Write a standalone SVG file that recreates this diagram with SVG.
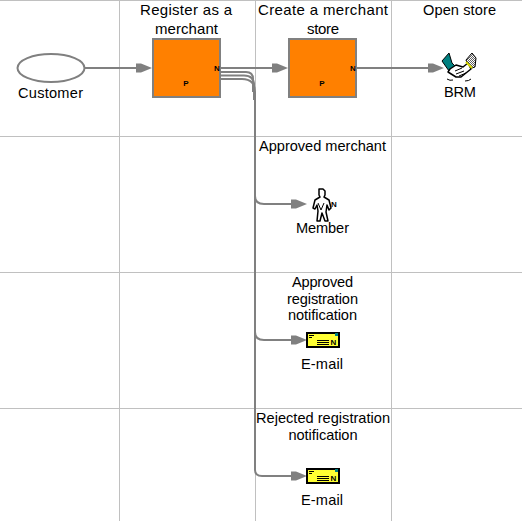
<svg xmlns="http://www.w3.org/2000/svg" width="522" height="521" viewBox="0 0 522 521">
<style>
text{font-family:"Liberation Sans",Arial,sans-serif;font-size:14.6px;fill:#000;text-anchor:middle}
.hd{font-size:15px}
.g{stroke:#c0c0c0;stroke-width:1;fill:none;shape-rendering:crispEdges}
.c{stroke:#808080;stroke-width:2;fill:none}
.h{fill:#808080;stroke:none}
.box{fill:#ff8000;stroke:#808080;stroke-width:2;shape-rendering:crispEdges}
.tiny{font-size:8px;font-weight:bold}
.env{fill:#ffff33;stroke:#000;stroke-width:2;shape-rendering:crispEdges}
.ln{stroke:#000;stroke-width:1;fill:none;shape-rendering:crispEdges}
.ol{fill:#fff;stroke:#000;stroke-width:1.500;stroke-linejoin:round}
</style>
<defs>
<pattern id="grey" width="2" height="2" patternUnits="userSpaceOnUse"><rect width="2" height="2" fill="#fff"/><rect width="1" height="1" fill="#606060"/><rect x="1" y="1" width="1" height="1" fill="#606060"/></pattern>
<path id="ah" class="h" d="M0 -4.500L5 -4.500L16 0L5 4.500L0 4.500Z"/>
</defs>
<rect width="522" height="521" fill="#fff"/>
<g id="grid">
<path class="g" d="M119.500 0V521M255.500 0V521M391.500 0V521M0 0.500H522M0 136.500H522M0 272.500H522M0 408.500H522"/>
</g>
<g id="connectors">
<path class="c" d="M85 68H138"/><use href="#ah" x="136" y="68"/>
<path class="c" d="M221 68H274"/><use href="#ah" x="272" y="68"/>
<path class="c" d="M357 68H430"/><use href="#ah" x="428" y="68"/>
<path class="c" d="M221 72H246Q253 72 253 79V92"/>
<path class="c" d="M221 75.500H244Q254 75.500 254 85V100"/>
<path class="c" d="M221 79H242Q255 79 255 92V470Q255 476 262 476H292"/>
<path class="c" d="M255 196Q255 204 264 204H292"/><use href="#ah" x="291" y="204"/>
<path class="c" d="M255 332Q255 340 264 340H292"/><use href="#ah" x="291" y="340"/>
<use href="#ah" x="291" y="476"/>
</g>
<g id="customer"><ellipse cx="51" cy="68" rx="33.500" ry="14" fill="#fff" stroke="#808080" stroke-width="2"/><text x="50.500" y="98" textLength="65">Customer</text></g>
<g id="register"><rect class="box" x="153" y="39" width="67" height="58"/><text class="tiny" x="186" y="86">P</text><text class="tiny" x="217" y="71">N</text><text class="hd" x="186" y="15" textLength="92">Register as a</text><text class="hd" x="186.500" y="34" textLength="63">merchant</text></g>
<g id="create"><rect class="box" x="289" y="39" width="67" height="58"/><text class="tiny" x="322" y="86">P</text><text class="tiny" x="353" y="71">N</text><text class="hd" x="323" y="15" textLength="130">Create a merchant</text><text class="hd" x="323" y="34" textLength="32">store</text></g>
<g id="brm"><text x="459.500" y="15" textLength="73">Open store</text>
<path d="M442 61L449 53L452 63L455 66L449 71Z" fill="#008080" stroke="#000"/>
<path d="M466 60L472 53L476 58L475 67L469 69Z" fill="url(#grey)" stroke="#000"/>
<path d="M450 69L456 65L463 67L468 63L471 69L461 77L456 77L448 72Z" class="ol"/>
<path d="M455 71L462 68M456 74L464 71M459 76L466 73" stroke="#000" fill="none"/>
<path d="M466 62L472 68" stroke="#d8d800" stroke-width="2"/>
<path d="M447 79q3 2 6 1M465 81q4 0 6-2" stroke="#000" fill="none"/>
<text x="460" y="97" textLength="32">BRM</text></g>
<g id="member"><text x="322.500" y="151" textLength="127">Approved merchant</text>
<path d="M319 189h4l2 2v4l-1 2 5 3 2 8-2 2-2-5-1 7 2 9h-3l-3-8-2 8h-3l1-10-1-6-2 4-2-1 2-8 5-3-1-2v-4z" class="ol"/>
<path d="M318 203l3 7 3-7" stroke="#000" fill="none"/>
<text class="tiny" x="334" y="207">N</text><text x="322.500" y="233" textLength="53">Member</text></g>
<g id="email1"><text x="322.500" y="287" textLength="61">Approved</text><text x="322.500" y="304" textLength="71">registration</text><text x="322.500" y="320" textLength="69">notification</text>
<rect class="env" x="307" y="333" width="32" height="14"/><path class="ln" d="M309 335.500h5M309 337.500h3M317 340.500h12M317 342.500h12M317 344.500h12"/><text class="tiny" x="333.500" y="345">N</text><rect x="335" y="333" width="3" height="3" fill="#008080"/><text x="322" y="369" textLength="42">E-mail</text></g>
<g id="email2"><text x="323" y="423" textLength="134">Rejected registration</text><text x="323" y="440" textLength="69">notification</text>
<rect class="env" x="307" y="469" width="32" height="14"/><path class="ln" d="M309 471.500h5M309 473.500h3M317 476.500h12M317 478.500h12M317 480.500h12"/><text class="tiny" x="333.500" y="481">N</text><rect x="335" y="469" width="3" height="3" fill="#008080"/><text x="322" y="505" textLength="42">E-mail</text></g>
</svg>
